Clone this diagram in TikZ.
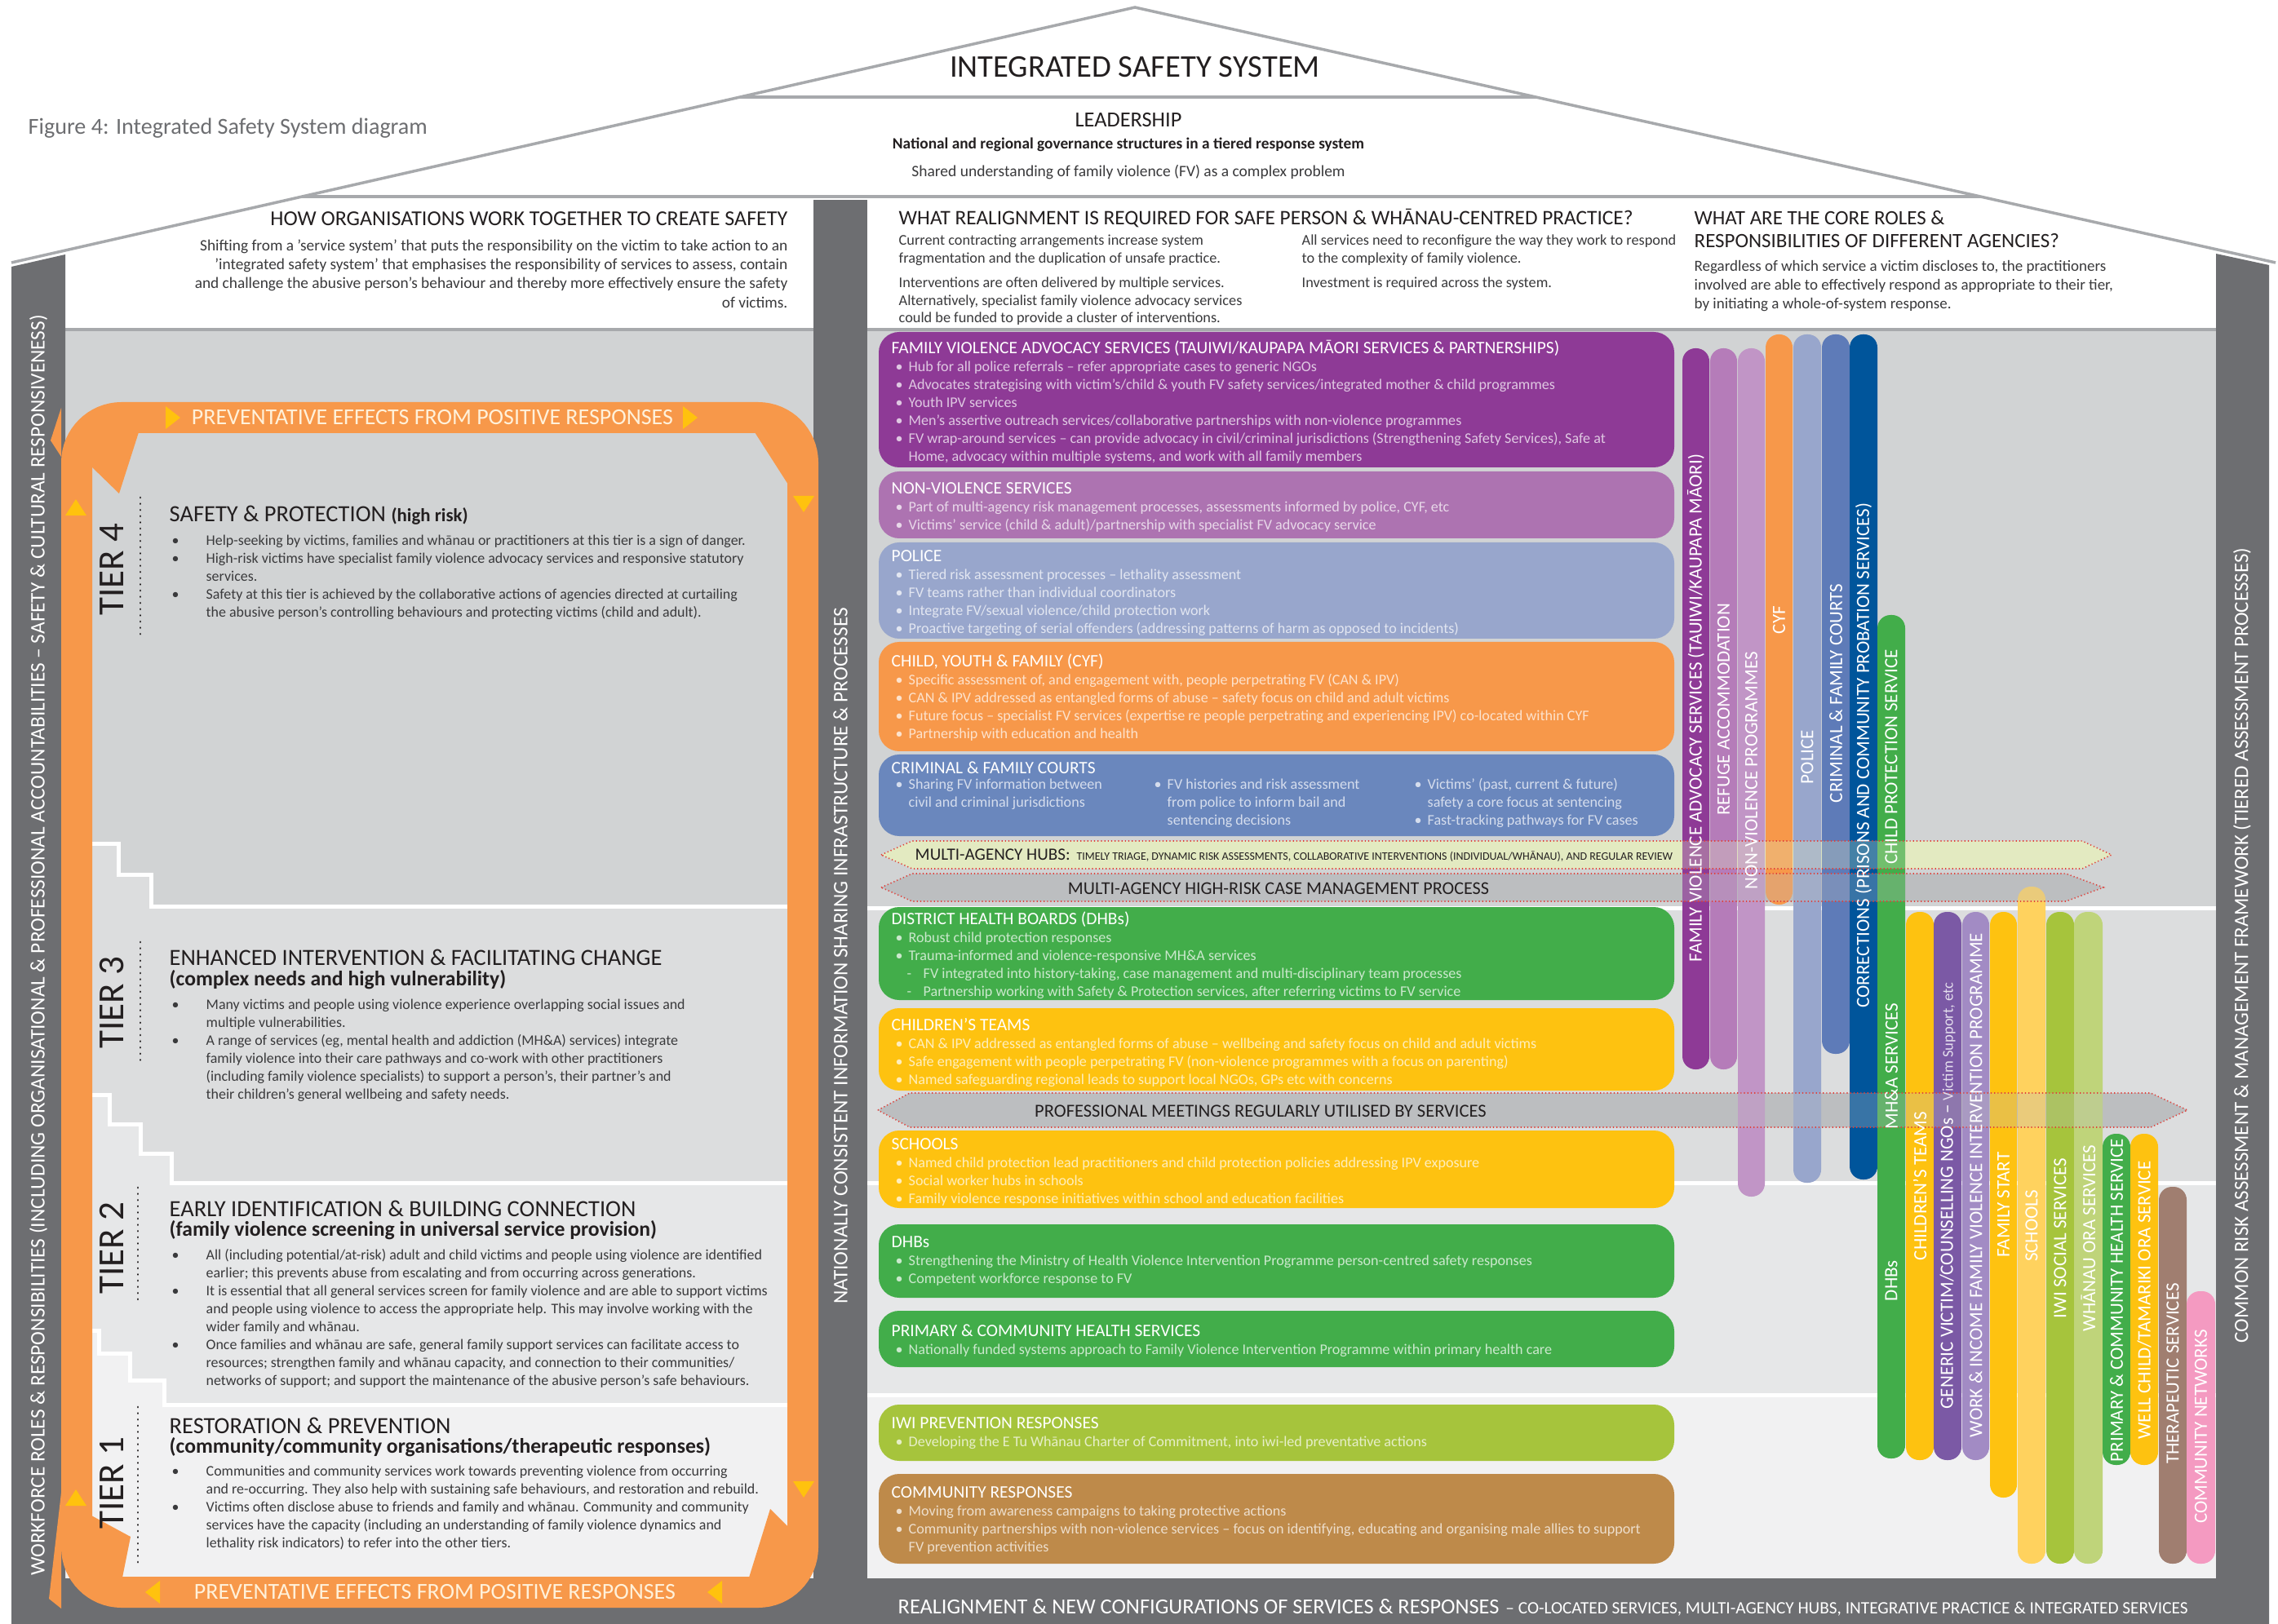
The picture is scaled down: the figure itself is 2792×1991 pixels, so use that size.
\documentclass[tikz,border=0pt]{standalone}
\usepackage{fontspec}
\setmainfont{Carlito}
\newcommand\fsz[2]{\fontsize{#1}{#2}\selectfont}
\definecolor{wallgray}{HTML}{6D6E71}
\definecolor{roofgray}{HTML}{A7A9AC}
\definecolor{tierA}{HTML}{D1D3D4}
\definecolor{tierB}{HTML}{DCDDDE}
\definecolor{tierC}{HTML}{E6E7E8}
\definecolor{tierD}{HTML}{F1F1F2}
\definecolor{loopc}{HTML}{F7984A}
\definecolor{looptext}{HTML}{FFF1DA}
\definecolor{tric}{HTML}{FFC20E}
\definecolor{ink}{HTML}{231F20}
\definecolor{bodyink}{HTML}{3A3A3C}
\definecolor{cFV}{HTML}{8E3A96}
\definecolor{cNV}{HTML}{AD73B1}
\definecolor{cRef}{HTML}{B57CB9}
\definecolor{cNVbar}{HTML}{C195C6}
\definecolor{cPol}{HTML}{98A6CC}
\definecolor{cCYF}{HTML}{F7984A}
\definecolor{cCourt}{HTML}{6A87BD}
\definecolor{cCourtBar}{HTML}{5E7BB8}
\definecolor{cCorr}{HTML}{00559B}
\definecolor{cGreen}{HTML}{42AD4A}
\definecolor{cYel}{HTML}{FEC210}
\definecolor{cSch}{HTML}{FFD25E}
\definecolor{cGen}{HTML}{7B59A5}
\definecolor{cWI}{HTML}{A28BC4}
\definecolor{cLime}{HTML}{A6C43C}
\definecolor{cWO}{HTML}{BFD47A}
\definecolor{cBrown}{HTML}{BE8A4A}
\definecolor{cTher}{HTML}{A07E70}
\definecolor{cPink}{HTML}{F49AC1}
\definecolor{cHub}{HTML}{E3EAC1}
\definecolor{cArr}{HTML}{BCBEC0}
\definecolor{cDot}{HTML}{E0403A}
\newcommand\lnstrut{\rule{0pt}{0.9em}}
\newcommand\bxt[1]{{\color{white}\fsz{6.1}{6.26}\lnstrut#1}}
\newcommand\bxu{\hspace*{0.5mm}\makebox[1.6mm][l]{\textbullet}}
\newcommand\bxc{\hspace*{2.1mm}}
\newcommand\bxd{\hspace*{1.9mm}\makebox[2mm][l]{-}}
\newcommand\lbu{\lnstrut\hspace*{0.3mm}\makebox[4.2mm][l]{\textbullet}}
\newcommand\lbc{\hspace*{4.5mm}}
\tikzset{
  boxbody/.style={anchor=north west, align=left, inner sep=0pt, font=\fsz{5.15}{6.26}},
  lbody/.style={anchor=north west, align=left, inner sep=0pt, font=\fsz{5.1}{6.26}, text=bodyink},
  ltitle/.style={anchor=west, inner sep=0pt, font=\fsz{8.1}{9}, text=ink},
  lsub/.style={anchor=west, inner sep=0pt, font=\bfseries\fsz{7.3}{8}, text=ink},
  barlbl/.style={rotate=90, text=white, inner sep=0pt, font=\fsz{6.55}{7.5}},
  walllbl/.style={rotate=90, text=white, inner sep=0pt},
  tierlbl/.style={rotate=90, inner sep=0pt, font=\fsz{12.8}{14}, text=ink},
  tierdots/.style={ink, line width=0.28mm, dash pattern=on 0.01mm off 0.75mm, line cap=round},
  whiteline/.style={white, line width=0.5mm},
  roofline/.style={roofgray, line width=0.35mm},
  arrline/.style={draw=cDot, line width=0.16mm, dash pattern=on 0.12mm off 0.3mm},
  looptxt/.style={inner sep=0pt, font=\fsz{7.95}{9}, text=looptext},
  hdtitle/.style={inner sep=0pt, font=\fsz{7.2}{8}, text=ink},
  hdpara/.style={inner sep=0pt, align=left, text=bodyink}
}
\newcommand\svcbox[6]{%
  \fill[#4, rounded corners=2.5mm] (1077,#2) rectangle (2052,#3);
  \node[boxbody, text=white!72!#4] (#1) at (1092,{#5-12.5}) {#6};}
\newcommand\sbar[5]{\fill[#5, rounded corners=1.6mm] (#1,#3) rectangle (#2,#4);}
\begin{document}
\begin{tikzpicture}[x=0.1mm,y=-0.1mm]
\useasboundingbox (0,0) rectangle (2792,1991);
\fill[white] (0,0) rectangle (2792,1991);

% ---------- left panel tiers ----------
\fill[tierD] (80,404) rectangle (997,1942);
\fill[tierC] (80,404) -- (997,404) -- (997,1722) -- (201,1722) -- (201,1692) -- (159,1692) -- (159,1659) -- (121,1659) -- (121,1631) -- (80,1631) -- cycle;
\fill[tierB] (80,404) -- (997,404) -- (997,1450) -- (210,1450) -- (210,1414) -- (172,1414) -- (172,1378) -- (134,1378) -- (134,1342) -- (80,1342) -- cycle;
\fill[tierA] (80,404) -- (997,404) -- (997,1111) -- (185,1111) -- (185,1072) -- (145,1072) -- (145,1034) -- (80,1034) -- cycle;
\draw[whiteline] (80,1631) -- (121,1631) -- (121,1659) -- (159,1659) -- (159,1692) -- (201,1692) -- (201,1722) -- (997,1722);
\draw[whiteline] (80,1342) -- (134,1342) -- (134,1378) -- (172,1378) -- (172,1414) -- (210,1414) -- (210,1450) -- (997,1450);
\draw[whiteline] (80,1034) -- (145,1034) -- (145,1072) -- (185,1072) -- (185,1111) -- (997,1111);

% ---------- middle/right panel tiers ----------
\fill[tierD] (1063,404) rectangle (2716,1935);
\fill[tierC] (1063,404) rectangle (2716,1710);
\fill[tierB] (1063,404) rectangle (2716,1450);
\fill[tierA] (1063,404) rectangle (2716,1113);
\draw[whiteline] (1063,1113) -- (2716,1113);
\draw[whiteline] (1063,1450) -- (2716,1450);
\draw[whiteline] (1063,1710) -- (2716,1710);
\draw[roofgray, line width=0.4mm] (80,404) -- (997,404);
\draw[roofgray, line width=0.4mm] (1063,404) -- (2716,404);

% ---------- walls, column, base ----------
\fill[wallgray] (14,327) -- (80,312) -- (80,1991) -- (14,1991) -- cycle;
\fill[wallgray] (2716,311) -- (2781,325) -- (2781,1991) -- (2716,1991) -- cycle;
\fill[wallgray] (997,245) rectangle (1063,1991);
\fill[wallgray] (14,1935) rectangle (2781,1991);

% ---------- roof ----------
\draw[roofline] (14,322) -- (1391,9) -- (2789,322);
\draw[roofline] (907,119) -- (1882,119);
\draw[roofline] (370,241) -- (2427,241);

% ---------- wall texts ----------
\node[walllbl, font=\fsz{7.2}{8}] (wallL) at (47,1159) {WORKFORCE ROLES \& RESPONSIBILITIES (INCLUDING ORGANISATIONAL \& PROFESSIONAL ACCOUNTABILITIES – SAFETY \& CULTURAL RESPONSIVENESS)};
\node[walllbl, font=\fsz{7.2}{8}] (wallM) at (1030,1172) {NATIONALLY CONSISTENT INFORMATION SHARING INFRASTRUCTURE \& PROCESSES};
\node[walllbl, font=\fsz{7.1}{8}] (wallR) at (2748,1159) {COMMON RISK ASSESSMENT \& MANAGEMENT FRAMEWORK (TIERED ASSESSMENT PROCESSES)};
\node[anchor=west, inner sep=0pt, text=white] (baseT) at (1100,1971) {{\fsz{7.5}{8}REALIGNMENT \& NEW CONFIGURATIONS OF SERVICES \& RESPONSES} {\fsz{6.05}{7}– CO-LOCATED SERVICES, MULTI-AGENCY HUBS, INTEGRATIVE PRACTICE \& INTEGRATED SERVICES}};

% ---------- orange loop ----------
\draw[loopc, line width=3.8mm, rounded corners=5.5mm] (94,512) rectangle (984,1952);
\fill[loopc] (112,530) -- (170,530) -- (146,605) -- (112,572) -- cycle;
\fill[loopc] (925,530) -- (966,530) -- (966,594) -- cycle;
\fill[loopc] (944,1850) -- (966,1872) -- (966,1934) -- (918,1934) -- cycle;
\fill[loopc] (112,1858) -- (160,1884) -- (150,1934) -- (112,1934) -- cycle;
\fill[loopc] (75,1830) -- (75,1972) -- (60,1960) -- cycle;
\fill[loopc] (75,560) -- (75,500) -- (62,540) -- cycle;
\fill[tric] (203,498) -- (221,512) -- (203,526) -- cycle;
\fill[tric] (837,498) -- (855,512) -- (837,526) -- cycle;
\fill[tric] (196,1938) -- (178,1952) -- (196,1966) -- cycle;
\fill[tric] (885,1938) -- (867,1952) -- (885,1966) -- cycle;
\fill[tric] (80,632) -- (93,612) -- (106,632) -- cycle;
\fill[tric] (80,1846) -- (93,1826) -- (106,1846) -- cycle;
\fill[tric] (972,608) -- (985,628) -- (998,608) -- cycle;
\fill[tric] (972,1816) -- (985,1836) -- (998,1816) -- cycle;
\node[looptxt] (loopTop) at (530,512) {PREVENTATIVE EFFECTS FROM POSITIVE RESPONSES};
\node[looptxt] (loopBot) at (533,1952) {PREVENTATIVE EFFECTS FROM POSITIVE RESPONSES};

% ---------- tier labels ----------
\node[tierlbl] (tier4) at (137,698) {TIER 4};
\node[tierlbl] (tier3) at (137,1229) {TIER 3};
\node[tierlbl] (tier2) at (137,1530) {TIER 2};
\node[tierlbl] (tier1) at (137,1818) {TIER 1};
\draw[tierdots] (172,610) -- (172,779);
\draw[tierdots] (172,1155) -- (172,1301);
\draw[tierdots] (169,1456) -- (169,1596);
\draw[tierdots] (169,1725) -- (169,1916);

% ---------- left panel texts ----------
\node[ltitle] (t4t) at (207,632) {SAFETY \& PROTECTION {\bfseries\fsz{6.5}{7.5}(high risk)}};
\node[lbody] (t4b) at (207,{663-11.6}) {\lbu Help-seeking by victims, families and whānau or practitioners at this tier is a sign of danger.\\
\lbu High-risk victims have specialist family violence advocacy services and responsive statutory\\
\lbc services.\\
\lbu Safety at this tier is achieved by the collaborative actions of agencies directed at curtailing\\
\lbc the abusive person’s controlling behaviours and protecting victims (child and adult).};

\node[ltitle] (t3t) at (207,1174) {ENHANCED INTERVENTION \& FACILITATING CHANGE};
\node[lsub] (t3s) at (207,1201) {(complex needs and high vulnerability)};
\node[lbody] (t3b) at (207,{1232-11.6}) {\lbu Many victims and people using violence experience overlapping social issues and\\
\lbc multiple vulnerabilities.\\
\lbu A range of services (eg, mental health and addiction (MH\&A) services) integrate\\
\lbc family violence into their care pathways and co-work with other practitioners\\
\lbc (including family violence specialists) to support a person’s, their partner’s and\\
\lbc their children’s general wellbeing and safety needs.};

\node[ltitle] (t2t) at (207,1482) {EARLY IDENTIFICATION \& BUILDING CONNECTION};
\node[lsub] (t2s) at (207,1508) {(family violence screening in universal service provision)};
\node[lbody] (t2b) at (207,{1539-11.6}) {\lbu All (including potential/at-risk) adult and child victims and people using violence are identified\\
\lbc earlier; this prevents abuse from escalating and from occurring across generations.\\
\lbu It is essential that all general services screen for family violence and are able to support victims\\
\lbc and people using violence to access the appropriate help. This may involve working with the\\
\lbc wider family and whānau.\\
\lbu Once families and whānau are safe, general family support services can facilitate access to\\
\lbc resources; strengthen family and whānau capacity, and connection to their communities/\\
\lbc networks of support; and support the maintenance of the abusive person’s safe behaviours.};

\node[ltitle] (t1t) at (207,1748) {RESTORATION \& PREVENTION};
\node[lsub] (t1s) at (207,1774) {(community/community organisations/therapeutic responses)};
\node[lbody] (t1b) at (207,{1804-11.6}) {\lbu Communities and community services work towards preventing violence from occurring\\
\lbc and re-occurring. They also help with sustaining safe behaviours, and restoration and rebuild.\\
\lbu Victims often disclose abuse to friends and family and whānau. Community and community\\
\lbc services have the capacity (including an understanding of family violence dynamics and\\
\lbc lethality risk indicators) to refer into the other tiers.};

% ---------- horizontal arrows (fills) ----------
\path[fill=cHub] (1080,1048) -- (1118,1031) -- (2552,1031) -- (2588,1048) -- (2552,1065) -- (1118,1065) -- cycle;
\path[fill=cArr] (1080,1088) -- (1118,1071) -- (2532,1071) -- (2578,1088) -- (2532,1105) -- (1118,1105) -- cycle;
\path[fill=cArr] (1076,1361) -- (1115,1340) -- (2636,1340) -- (2681,1361) -- (2636,1382) -- (1115,1382) -- cycle;

% ---------- service boxes ----------
\svcbox{bxFV}{407}{573}{cFV}{426}{\bxt{FAMILY VIOLENCE ADVOCACY SERVICES (TAUIWI/KAUPAPA MĀORI SERVICES \& PARTNERSHIPS)}\\
\bxu Hub for all police referrals – refer appropriate cases to generic NGOs\\
\bxu Advocates strategising with victim’s/child \& youth FV safety services/integrated mother \& child programmes\\
\bxu Youth IPV services\\
\bxu Men’s assertive outreach services/collaborative partnerships with non-violence programmes\\
\bxu FV wrap-around services – can provide advocacy in civil/criminal jurisdictions (Strengthening Safety Services), Safe at\\
\bxc Home, advocacy within multiple systems, and work with all family members}

\svcbox{bxNV}{578}{660}{cNV}{598}{\bxt{NON-VIOLENCE SERVICES}\\
\bxu Part of multi-agency risk management processes, assessments informed by police, CYF, etc\\
\bxu Victims’ service (child \& adult)/partnership with specialist FV advocacy service}

\svcbox{bxPol}{665}{783}{cPol}{681}{\bxt{POLICE}\\
\bxu Tiered risk assessment processes – lethality assessment\\
\bxu FV teams rather than individual coordinators\\
\bxu Integrate FV/sexual violence/child protection work\\
\bxu Proactive targeting of serial offenders (addressing patterns of harm as opposed to incidents)}

\svcbox{bxCYF}{787}{921}{cCYF}{810}{\bxt{CHILD, YOUTH \& FAMILY (CYF)}\\
\bxu Specific assessment of, and engagement with, people perpetrating FV (CAN \& IPV)\\
\bxu CAN \& IPV addressed as entangled forms of abuse – safety focus on child and adult victims\\
\bxu Future focus – specialist FV services (expertise re people perpetrating and experiencing IPV) co-located within CYF\\
\bxu Partnership with education and health}

\svcbox{bxCourt}{925}{1025}{cCourt}{941}{\bxt{CRIMINAL \& FAMILY COURTS}}
\node[boxbody, text=white!72!cCourt] (bxCourtA) at (1092,{963-12.2}) {\lnstrut\bxu Sharing FV information between\\ \bxc civil and criminal jurisdictions};
\node[boxbody, text=white!72!cCourt] (bxCourtB) at (1409,{963-12.2}) {\lnstrut\bxu FV histories and risk assessment\\ \bxc from police to inform bail and\\ \bxc sentencing decisions};
\node[boxbody, text=white!72!cCourt] (bxCourtC) at (1728,{963-12.2}) {\lnstrut\bxu Victims’ (past, current \& future)\\ \bxc safety a core focus at sentencing\\ \bxu Fast-tracking pathways for FV cases};

\svcbox{bxDHB}{1112}{1226}{cGreen}{1126}{\bxt{DISTRICT HEALTH BOARDS (DHBs)}\\
\bxu Robust child protection responses\\
\bxu Trauma-informed and violence-responsive MH\&A services\\
\bxd FV integrated into history-taking, case management and multi-disciplinary team processes\\
\bxd Partnership working with Safety \& Protection services, after referring victims to FV service}

\svcbox{bxCT}{1236}{1337}{cYel}{1256}{\bxt{CHILDREN’S TEAMS}\\
\bxu CAN \& IPV addressed as entangled forms of abuse – wellbeing and safety focus on child and adult victims\\
\bxu Safe engagement with people perpetrating FV (non-violence programmes with a focus on parenting)\\
\bxu Named safeguarding regional leads to support local NGOs, GPs etc with concerns}

\svcbox{bxSch}{1386}{1481}{cYel}{1402}{\bxt{SCHOOLS}\\
\bxu Named child protection lead practitioners and child protection policies addressing IPV exposure\\
\bxu Social worker hubs in schools\\
\bxu Family violence response initiatives within school and education facilities}

\svcbox{bxDHBb}{1501}{1591}{cGreen}{1522}{\bxt{DHBs}\\
\bxu Strengthening the Ministry of Health Violence Intervention Programme person-centred safety responses\\
\bxu Competent workforce response to FV}

\svcbox{bxPri}{1607}{1676}{cGreen}{1631}{\bxt{PRIMARY \& COMMUNITY HEALTH SERVICES}\\
\bxu Nationally funded systems approach to Family Violence Intervention Programme within primary health care}

\svcbox{bxIwi}{1722}{1791}{cLime}{1744}{\bxt{IWI PREVENTION RESPONSES}\\
\bxu Developing the E Tu Whānau Charter of Commitment, into iwi-led preventative actions}

\svcbox{bxCom}{1807}{1917}{cBrown}{1829}{\bxt{COMMUNITY RESPONSES}\\
\bxu Moving from awareness campaigns to taking protective actions\\
\bxu Community partnerships with non-violence services – focus on identifying, educating and organising male allies to support\\
\bxc FV prevention activities}

% ---------- vertical agency bars ----------
\sbar{2062}{2095}{427}{1311}{cFV}
\sbar{2096}{2129}{427}{1311}{cRef}
\sbar{2130}{2163}{427}{1467}{cNVbar}
\sbar{2164}{2197}{410}{1109}{cCYF}
\sbar{2198}{2232}{410}{1450}{cPol}
\sbar{2233}{2267}{410}{1292}{cCourtBar}
\sbar{2267}{2301}{410}{1446}{cCorr}
\sbar{2301}{2335}{754}{1788}{cGreen}
\sbar{2336}{2370}{1118}{1790}{cYel}
\sbar{2370}{2404}{1118}{1790}{cGen}
\sbar{2405}{2438}{1118}{1790}{cWI}
\sbar{2439}{2472}{1118}{1836}{cYel}
\sbar{2473}{2507}{1087}{1917}{cSch}
\sbar{2508}{2542}{1118}{1917}{cLime}
\sbar{2542}{2577}{1118}{1917}{cWO}
\sbar{2577}{2611}{1390}{1796}{cGreen}
\sbar{2611}{2645}{1390}{1796}{cYel}
\sbar{2646}{2680}{1455}{1917}{cTher}
\sbar{2680}{2715}{1583}{1917}{cPink}

% ---------- arrow outlines over bars ----------
\path[arrline, fill=cHub, fill opacity=0.3] (1080,1048) -- (1118,1031) -- (2552,1031) -- (2588,1048) -- (2552,1065) -- (1118,1065) -- cycle;
\path[arrline, fill=cArr, fill opacity=0.3] (1080,1088) -- (1118,1071) -- (2532,1071) -- (2578,1088) -- (2532,1105) -- (1118,1105) -- cycle;
\path[arrline, fill=cArr, fill opacity=0.3] (1076,1361) -- (1115,1340) -- (2636,1340) -- (2681,1361) -- (2636,1382) -- (1115,1382) -- cycle;
\node[anchor=west, inner sep=0pt, text=ink] (hubT) at (1121,1049) {{\fsz{6}{7}MULTI-AGENCY HUBS:} {\fsz{3.97}{5}TIMELY TRIAGE, DYNAMIC RISK ASSESSMENTS, COLLABORATIVE INTERVENTIONS (INDIVIDUAL/WHĀNAU), AND REGULAR REVIEW}};
\node[inner sep=0pt, text=ink, font=\fsz{6.3}{7}] (hrT) at (1567,1089) {MULTI-AGENCY HIGH-RISK CASE MANAGEMENT PROCESS};
\node[inner sep=0pt, text=ink, font=\fsz{6.4}{7}] (pmT) at (1545,1362) {PROFESSIONAL MEETINGS REGULARLY UTILISED BY SERVICES};

% ---------- bar labels ----------
\node[barlbl] (lb1) at (2078.5,868) {FAMILY VIOLENCE ADVOCACY SERVICES (TAUIWI/KAUPAPA MĀORI)};
\node[barlbl] (lb2) at (2112.5,870) {REFUGE ACCOMMODATION};
\node[barlbl] (lb3) at (2146.5,945) {NON-VIOLENCE PROGRAMMES};
\node[barlbl] (lb4) at (2180.5,760) {CYF};
\node[barlbl] (lb5) at (2215,928) {POLICE};
\node[barlbl] (lb6) at (2250,850) {CRIMINAL \& FAMILY COURTS};
\node[barlbl] (lb7) at (2284,926) {CORRECTIONS (PRISONS AND COMMUNITY PROBATION SERVICES)};
\node[barlbl] (lb8a) at (2318,928) {CHILD PROTECTION SERVICE};
\node[barlbl] (lb8b) at (2318,1307) {MH\&A SERVICES};
\node[barlbl] (lb8c) at (2318,1570) {DHBs};
\node[barlbl] (lb9) at (2353,1454) {CHILDREN’S TEAMS};
\node[barlbl] (lb10) at (2387,1466) {GENERIC VICTIM/COUNSELLING NGOs – {\fsz{5.3}{6}\color{white!80!cGen}Victim Support, etc}};
\node[barlbl] (lb11) at (2421.5,1453) {WORK \& INCOME FAMILY VIOLENCE INTERVENTION PROGRAMME};
\node[barlbl] (lb12) at (2455.5,1477) {FAMILY START};
\node[barlbl] (lb13) at (2490,1503) {SCHOOLS};
\node[barlbl] (lb14) at (2525,1518) {IWI SOCIAL SERVICES};
\node[barlbl] (lb15) at (2559.5,1518) {WHĀNAU ORA SERVICES};
\node[barlbl] (lb16) at (2594,1594) {PRIMARY \& COMMUNITY HEALTH SERVICE};
\node[barlbl] (lb17) at (2628,1594) {WELL CHILD/TAMARIKI ORA SERVICE};
\node[barlbl] (lb18) at (2663,1684) {THERAPEUTIC SERVICES};
\node[barlbl] (lb19) at (2697.5,1749) {COMMUNITY NETWORKS};

% ---------- header texts ----------
\node[inner sep=0pt, font=\fsz{11}{12}, text=ink] (isys) at (1391,82) {INTEGRATED SAFETY SYSTEM};
\node[inner sep=0pt, font=\fsz{7.5}{9}, text=ink] (lead) at (1383,147) {LEADERSHIP};
\node[inner sep=0pt, font=\bfseries\fsz{5.5}{6}, text=ink] (gov) at (1383,177) {National and regional governance structures in a tiered response system};
\node[inner sep=0pt, font=\fsz{5.55}{6}, text=bodyink] (shared) at (1383,211) {Shared understanding of family violence (FV) as a complex problem};
\node[anchor=west, inner sep=0pt, font=\fsz{8}{9}, text=wallgray] (caption) at (34,157) {Figure 4: Integrated Safety System diagram};

\node[hdtitle, anchor=east, font=\fsz{7.4}{8}] (howT) at (966,268) {HOW ORGANISATIONS WORK TOGETHER TO CREATE SAFETY};
\node[hdpara, anchor=north east, align=right, font=\fsz{5.5}{6.6}] (howP) at (966,{302-12.5}) {\lnstrut Shifting from a ’service system’ that puts the responsibility on the victim to take action to an\\
’integrated safety system’ that emphasises the responsibility of services to assess, contain\\
and challenge the abusive person’s behaviour and thereby more effectively ensure the safety\\
of victims.};

\node[hdtitle, anchor=west] (realT) at (1101,268) {WHAT REALIGNMENT IS REQUIRED FOR SAFE PERSON \& WHĀNAU-CENTRED PRACTICE?};
\node[hdpara, anchor=north west, font=\fsz{5.2}{6.2}] (realA) at (1101,{295-11.9}) {\lnstrut Current contracting arrangements increase system\\fragmentation and the duplication of unsafe practice.};
\node[hdpara, anchor=north west, font=\fsz{5.2}{6.2}] (realB) at (1101,{347-11.9}) {\lnstrut Interventions are often delivered by multiple services.\\Alternatively, specialist family violence advocacy services\\could be funded to provide a cluster of interventions.};
\node[hdpara, anchor=north west, font=\fsz{5.2}{6.2}] (realC) at (1595,{295-11.9}) {\lnstrut All services need to reconfigure the way they work to respond\\to the complexity of family violence.};
\node[hdpara, anchor=north west, font=\fsz{5.2}{6.2}] (realD) at (1595,{347-11.9}) {\lnstrut Investment is required across the system.};

\node[hdtitle, anchor=north west, align=left, font=\fsz{7.1}{7.9}] (coreT) at (2076,{267-14.6}) {\lnstrut WHAT ARE THE CORE ROLES \&\\RESPONSIBILITIES OF DIFFERENT AGENCIES?};
\node[hdpara, anchor=north west, font=\fsz{5.4}{6.5}] (coreP) at (2076,{327-12.3}) {\lnstrut Regardless of which service a victim discloses to, the practitioners\\involved are able to effectively respond as appropriate to their tier,\\by initiating a whole-of-system response.};
\end{tikzpicture}
\end{document}
